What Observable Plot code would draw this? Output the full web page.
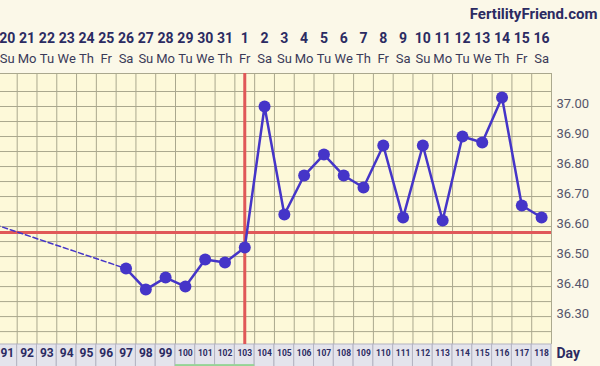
<!DOCTYPE html>
<html>
<head>
<meta charset="utf-8">
<script src="https://cdn.jsdelivr.net/npm/d3@7"></script>
<script src="https://cdn.jsdelivr.net/npm/@observablehq/plot@0.6"></script>
<style>
  html, body { margin: 0; padding: 0; background: #fbf8e8; }
  #chart svg { display: block; }
</style>
</head>
<body>
<div id="chart"></div>
<script>
// ---- data ----
const cycleDays = [91,92,93,94,95,96,97,98,99,100,101,102,103,104,105,106,107,108,109,110,111,112,113,114,115,116,117,118];
const dates = ["20","21","22","23","24","25","26","27","28","29","30","31","1","2","3","4","5","6","7","8","9","10","11","12","13","14","15","16"];
const weekdays = ["Su","Mo","Tu","We","Th","Fr","Sa","Su","Mo","Tu","We","Th","Fr","Sa","Su","Mo","Tu","We","Th","Fr","Sa","Su","Mo","Tu","We","Th","Fr","Sa"];
const tempDays = [97,98,99,100,101,102,103,104,105,106,107,108,109,110,111,112,113,114,115,116,117,118];
const temps = [36.46,36.39,36.43,36.40,36.49,36.48,36.53,37.00,36.64,36.77,36.84,36.77,36.73,36.87,36.63,36.87,36.62,36.90,36.88,37.03,36.67,36.63];
const priorDays = [90, 97];          // dashed link from the previous cycle
const priorTemps = [36.615, 36.46];
const coverline = 36.58;
const ovulationDay = 103;
const greenDays = [100,101,102,103];
const tempTicks = ["36.30","36.40","36.50","36.60","36.70","36.80","36.90","37.00"];
const siteTitle = "FertilityFriend.com";

// ---- derived tables ----
const temperature = tempDays.map((d, i) => ({day: d, t: temps[i]}));
const prior = priorDays.map((d, i) => ({day: d, t: priorTemps[i]}));
const header = cycleDays.map((d, i) => ({day: d, date: dates[i], wd: weekdays[i]}));
const yTop = 37.11, yBot = 36.207, yRowBot = 36.13;
const hGrid = d3.range(36.25, 37.06, 0.05).map(v => +v.toFixed(2));
const vGrid = [90.5, ...cycleDays.map(d => d + 0.5)];

const blue = "#4535c8", red = "#e05858", grid = "#aaa88e";
const navy = "#2b2b62";

const chart = Plot.plot({
  width: 600, height: 366,
  marginTop: 0, marginRight: 0, marginBottom: 0, marginLeft: 0,
  x: {type: "linear", domain: [91, 118], range: [6.8, 541.1], axis: null},
  y: {type: "linear", domain: [yBot, yTop], range: [344, 73], axis: null},
  style: {background: "#fbf8e8", fontFamily: "Roboto, 'Noto Sans', sans-serif", overflow: "hidden"},
  marks: [
    // plot area
    Plot.rect([0], {x1: 89, x2: 118.5, y1: yBot, y2: yTop, fill: "#fdf9d9"}),
    // grid
    Plot.ruleY(hGrid, {y: d => d, x1: 89, x2: 118.5, stroke: grid, strokeWidth: 1}),
    Plot.ruleY([yTop], {y: d => d, x1: 89, x2: 118.5, stroke: grid, strokeWidth: 1}),
    Plot.ruleX(vGrid, {x: d => d, y1: yBot, y2: yTop, stroke: grid, strokeWidth: 1}),
    // day row
    Plot.rect(cycleDays, {x1: d => d - 0.5, x2: d => d + 0.5, y1: yBot, y2: yRowBot, fill: "#e4e4ec", stroke: "#b4b4c2", strokeWidth: 1}),
    Plot.rect(greenDays, {x1: d => d - 0.5, x2: d => d + 0.5, y1: 36.14, y2: yRowBot, fill: "#95d495"}),
    // coverline & ovulation line
    Plot.ruleY([coverline], {y: d => d, x1: 89, x2: 118.5, stroke: red, strokeWidth: 3}),
    Plot.ruleX([ovulationDay], {x: d => d, y1: yBot, y2: yTop, stroke: red, strokeWidth: 3}),
    // temperatures
    Plot.line(prior, {x: "day", y: "t", stroke: blue, strokeWidth: 1.5, strokeDasharray: "5,3"}),
    Plot.line(temperature, {x: "day", y: "t", stroke: blue, strokeWidth: 2.5}),
    Plot.dot(temperature, {x: "day", y: "t", r: 6, fill: blue, stroke: "none"}),
    // header rows
    Plot.text(header, {x: "day", text: "date", frameAnchor: "top", lineAnchor: "middle", dy: 38, fontSize: 14, fontWeight: "bold", fill: navy}),
    Plot.text(header, {x: "day", text: "wd", frameAnchor: "top", lineAnchor: "middle", dy: 58, fontSize: 13, fill: "#3a3a58"}),
    // day numbers
    Plot.text(cycleDays.filter(d => d < 100), {x: d => d, text: d => String(d), frameAnchor: "bottom", lineAnchor: "middle", dy: -13, fontSize: 12, fontWeight: "bold", fill: navy}),
    Plot.text(cycleDays.filter(d => d >= 100), {x: d => d, text: d => String(d), frameAnchor: "bottom", lineAnchor: "middle", dy: -13, fontSize: 8.5, fontWeight: "bold", fill: navy}),
    Plot.text(["Day"], {x: 118.5, text: d => d, frameAnchor: "bottom", lineAnchor: "middle", textAnchor: "start", dx: 5, dy: -13, fontSize: 14, fontWeight: "bold", fill: navy}),
    // temperature labels
    Plot.text(tempTicks, {x: 118.5, y: d => +d, text: d => d, textAnchor: "start", lineAnchor: "middle", dx: 5, dy: -2.5, fontSize: 13, fill: "#55556a"}),
    // site title
    Plot.text([siteTitle], {text: d => d, frameAnchor: "top-right", lineAnchor: "middle", textAnchor: "end", dx: -3, dy: 14, fontSize: 15, fontWeight: "bold", fill: navy})
  ]
});
document.getElementById("chart").appendChild(chart);
</script>
</body>
</html>
